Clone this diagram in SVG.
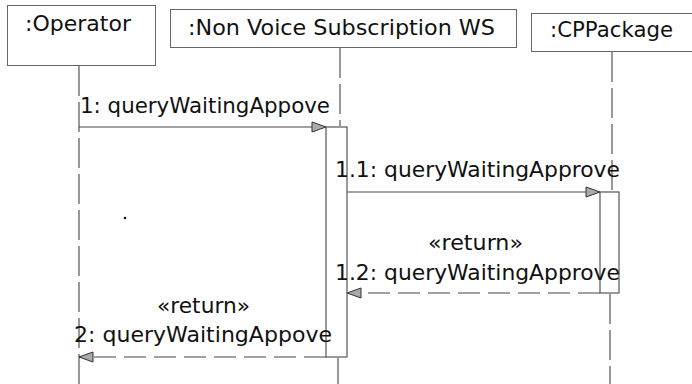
<svg xmlns="http://www.w3.org/2000/svg" width="692" height="384" viewBox="0 0 692 384">
<style>
.box{fill:#fff;stroke:#666;stroke-width:1}
.life{stroke:#555;stroke-width:1.2;stroke-dasharray:30,6;fill:none}
.act{fill:#fff;stroke:#555;stroke-width:1.2}
.msg{stroke:#444;stroke-width:1.2;fill:none}
.ret{stroke:#444;stroke-width:1.2;fill:none;stroke-dasharray:22,8}
text{font-family:"DejaVu Sans","Liberation Sans",sans-serif;font-size:20.5px;fill:#111}
</style>
<defs>
<marker id="ah" markerWidth="16" markerHeight="12" refX="15" refY="6" orient="auto" markerUnits="userSpaceOnUse">
<path d="M1,1 L15,6 L1,11 Z" fill="#aaa" stroke="#333" stroke-width="1"/>
</marker>
</defs>
<rect width="692" height="384" fill="#fff"/>
<g id="connectors">
<line class="life" x1="79" y1="66" x2="79" y2="384"/>
<line class="life" x1="340" y1="48" x2="340" y2="126"/>
<line class="life" x1="338" y1="358" x2="338" y2="384"/>
<line class="life" x1="612" y1="52" x2="612" y2="192"/>
<line class="life" x1="610" y1="294" x2="610" y2="384"/>
<line class="msg" x1="79" y1="127" x2="326" y2="127" marker-end="url(#ah)"/>
<line class="msg" x1="347" y1="192" x2="600" y2="192" marker-end="url(#ah)"/>
<line class="ret" x1="600" y1="293" x2="347" y2="293" marker-end="url(#ah)"/>
<line class="ret" x1="326" y1="357" x2="79" y2="357" marker-end="url(#ah)"/>
</g>
<g id="operator">
<rect class="box" x="7.5" y="5.5" width="148" height="60"/>
<text x="25" y="31" textLength="106" lengthAdjust="spacingAndGlyphs">:Operator</text>
</g>
<g id="nonvoice">
<rect class="box" x="170.5" y="9.5" width="346" height="38"/>
<text x="188" y="35" textLength="307" lengthAdjust="spacingAndGlyphs">:Non Voice Subscription WS</text>
<rect class="act" x="326" y="127" width="21" height="230"/>
</g>
<g id="cppackage">
<rect class="box" x="531.5" y="13.5" width="170" height="38"/>
<text x="550" y="37" textLength="123" lengthAdjust="spacingAndGlyphs">:CPPackage</text>
<rect class="act" x="600" y="192" width="19" height="101"/>
</g>
<g id="labels">
<text x="80" y="113" textLength="250" lengthAdjust="spacingAndGlyphs">1: queryWaitingAppove</text>
<text x="335" y="177" textLength="285" lengthAdjust="spacingAndGlyphs">1.1: queryWaitingApprove</text>
<text x="428" y="250" textLength="95" lengthAdjust="spacingAndGlyphs">«return»</text>
<text x="335" y="280" textLength="285" lengthAdjust="spacingAndGlyphs">1.2: queryWaitingApprove</text>
<text x="157" y="313" textLength="93" lengthAdjust="spacingAndGlyphs">«return»</text>
<text x="74" y="342" textLength="258" lengthAdjust="spacingAndGlyphs">2: queryWaitingAppove</text>
</g>
<circle cx="125" cy="218" r="1.3" fill="#111"/>
</svg>
